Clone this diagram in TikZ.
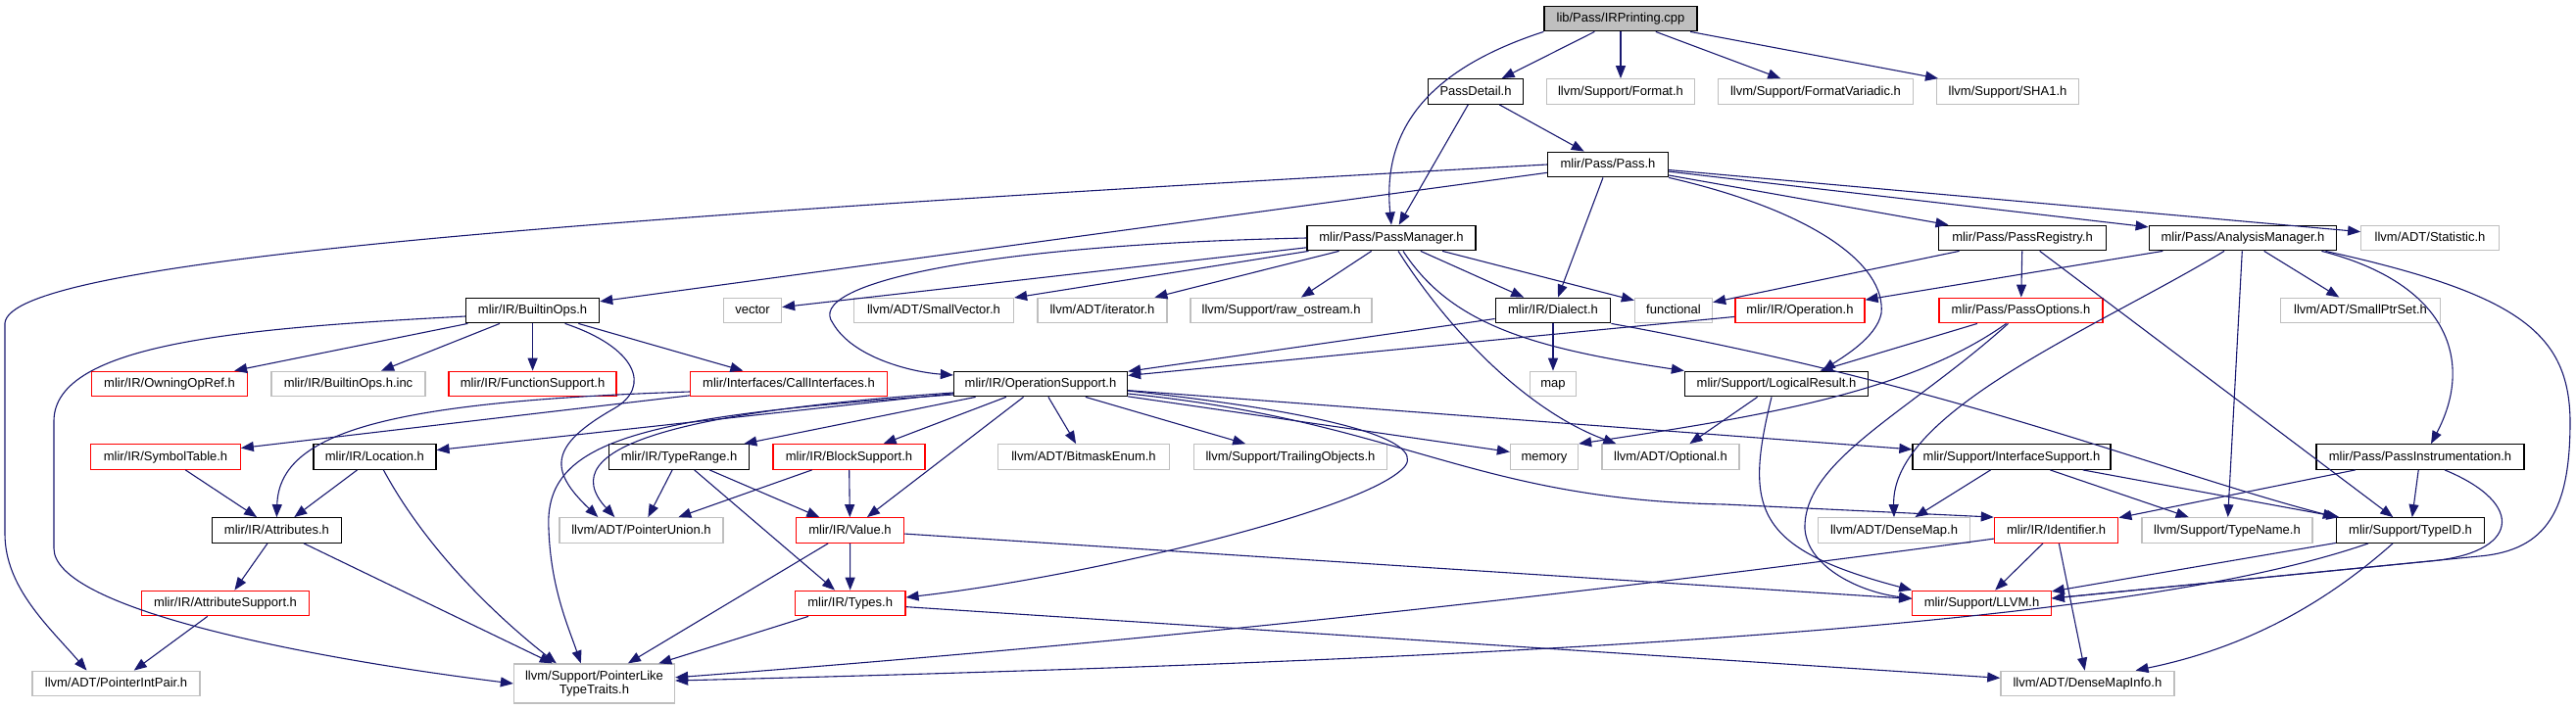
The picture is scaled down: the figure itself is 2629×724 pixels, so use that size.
\documentclass[tikz,border=0pt]{standalone}
\usepackage{fontspec}
\setmainfont{Liberation Sans}
\usetikzlibrary{arrows.meta,calc}
\definecolor{edgec}{HTML}{191970}
\definecolor{greyc}{HTML}{BFBFBF}
\definecolor{redc}{HTML}{FF0000}
\newcommand\nfont{\fontsize{13}{14}\selectfont}
\tikzset{
  basebox/.style={line width=1.3pt, inner xsep=2pt, inner ysep=0pt, font=\nfont},
  box/.style={basebox, minimum height=25.5pt, text height=9.6pt, text depth=2.6pt},
  docbox/.style={box, draw=black},
  extbox/.style={box, draw=greyc},
  trbox/.style={box, draw=redc},
  dep/.style={draw=edgec, line width=1.1pt, -{Triangle[length=13pt,width=10pt]}},
}
\begin{document}
\begin{tikzpicture}[x=1pt,y=-1pt]
\useasboundingbox (0,0) rectangle (2629,724);
% row 0
\node[docbox, fill=greyc, minimum width=156pt] (root) at (1654,19) {lib/Pass/IRPrinting.cpp};
% row 1
\node[docbox, minimum width=97pt] (pd) at (1506,93.5) {PassDetail.h};
\node[extbox, minimum width=151pt] (fmt) at (1654,93.5) {llvm/Support/Format.h};
\node[extbox, minimum width=199pt] (fv) at (1853,93.5) {llvm/Support/FormatVariadic.h};
\node[extbox, minimum width=145pt] (sha) at (2049,93.5) {llvm/Support/SHA1.h};
% row 2
\node[docbox, minimum width=123pt] (pass) at (1641,168) {mlir/Pass/Pass.h};
% row 3
\node[docbox, minimum width=172pt] (pm) at (1420,243) {mlir/Pass/PassManager.h};
\node[docbox, minimum width=171pt] (preg) at (2064,243) {mlir/Pass/PassRegistry.h};
\node[docbox, minimum width=191.5pt] (am) at (2289,243) {mlir/Pass/AnalysisManager.h};
\node[extbox, minimum width=140.5pt] (stat) at (2480,243) {llvm/ADT/Statistic.h};
% row 4
\node[docbox, minimum width=136pt] (bops) at (543.6,317) {mlir/IR/BuiltinOps.h};
\node[extbox, minimum width=59pt] (vec) at (768,317) {vector};
\node[extbox, minimum width=163pt] (sv) at (953,317) {llvm/ADT/SmallVector.h};
\node[extbox, minimum width=132pt] (it) at (1125,317) {llvm/ADT/iterator.h};
\node[extbox, minimum width=185pt] (ro) at (1307.6,317) {llvm/Support/raw\_ostream.h};
\node[docbox, minimum width=117.5pt] (dia) at (1585,317) {mlir/IR/Dialect.h};
\node[extbox, minimum width=79pt] (fun) at (1708,317) {functional};
\node[trbox, minimum width=132pt] (op) at (1837,317) {mlir/IR/Operation.h};
\node[trbox, minimum width=167pt] (popt) at (2062.5,317) {mlir/Pass/PassOptions.h};
\node[extbox, minimum width=162.5pt] (sps) at (2409,317) {llvm/ADT/SmallPtrSet.h};
% row 5
\node[trbox, minimum width=159pt] (oor) at (173,392) {mlir/IR/OwningOpRef.h};
\node[extbox, minimum width=157pt] (binc) at (355.5,392) {mlir/IR/BuiltinOps.h.inc};
\node[trbox, minimum width=171pt] (fs) at (543.6,392) {mlir/IR/FunctionSupport.h};
\node[trbox, minimum width=201pt] (ci) at (805,392) {mlir/Interfaces/CallInterfaces.h};
\node[docbox, minimum width=177pt] (os) at (1062,392) {mlir/IR/OperationSupport.h};
\node[extbox, minimum width=47pt] (map) at (1585,392) {map};
\node[docbox, minimum width=187pt] (lr) at (1813,392) {mlir/Support/LogicalResult.h};
% row 6
\node[trbox, minimum width=152.4pt] (st) at (169,466.5) {mlir/IR/SymbolTable.h};
\node[docbox, minimum width=125pt] (loc) at (382.4,466.5) {mlir/IR/Location.h};
\node[docbox, minimum width=143pt] (tr) at (693,466.5) {mlir/IR/TypeRange.h};
\node[trbox, minimum width=155pt] (bs) at (866.5,466.5) {mlir/IR/BlockSupport.h};
\node[extbox, minimum width=175pt] (be) at (1106,466.5) {llvm/ADT/BitmaskEnum.h};
\node[extbox, minimum width=197.5pt] (to) at (1317,466.5) {llvm/Support/TrailingObjects.h};
\node[extbox, minimum width=69pt] (mem) at (1576,466.5) {memory};
\node[extbox, minimum width=140pt] (opt) at (1705,466.5) {llvm/ADT/Optional.h};
\node[docbox, minimum width=202pt] (is) at (2053,466.5) {mlir/Support/InterfaceSupport.h};
\node[docbox, minimum width=212pt] (pi) at (2470,466.5) {mlir/Pass/PassInstrumentation.h};
% row 7
\node[docbox, minimum width=132pt] (attr) at (282.4,541.5) {mlir/IR/Attributes.h};
\node[extbox, minimum width=167pt] (pu) at (654.5,541.5) {llvm/ADT/PointerUnion.h};
\node[trbox, minimum width=109.4pt] (val) at (867.5,541.5) {mlir/IR/Value.h};
\node[extbox, minimum width=154.4pt] (dm) at (1933,541.5) {llvm/ADT/DenseMap.h};
\node[trbox, minimum width=126.3pt] (idf) at (2098.6,541.5) {mlir/IR/Identifier.h};
\node[extbox, minimum width=174pt] (tn) at (2273,541.5) {llvm/Support/TypeName.h};
\node[docbox, minimum width=151pt] (tid) at (2460,541.5) {mlir/Support/TypeID.h};
% row 8
\node[trbox, minimum width=171pt] (as) at (230,616) {mlir/IR/AttributeSupport.h};
\node[trbox, minimum width=112.4pt] (ty) at (867.7,616) {mlir/IR/Types.h};
\node[trbox, minimum width=141.4pt] (llvm) at (2022.5,616) {mlir/Support/LLVM.h};
% row 9
\node[extbox, minimum width=171pt] (pip) at (118.5,698) {llvm/ADT/PointerIntPair.h};
\node[basebox, draw=greyc, align=center, minimum width=164pt, minimum height=40pt] (plt) at (606.5,698) {llvm/Support/PointerLike\\TypeTraits.h};
\node[extbox, minimum width=177pt] (dmi) at (2130.4,698) {llvm/ADT/DenseMapInfo.h};

% ---- edges ----
% root
\draw[dep] (root) -- (pd);
\draw[dep] (root.south west) .. controls (1460,70) and (1410,130) .. (pm.north);
\draw[dep] (root) -- (fmt);
\draw[dep] (root) -- (fv);
\draw[dep] (root) -- (sha);
% PassDetail
\draw[dep] (pd) -- (pm);
\draw[dep] (pd) -- (pass);
% Pass.h
\draw[dep] (pass) -- (bops);
\draw[dep] (pass.west) .. controls (600,222) and (10,265) .. (5,330) -- (5,545) .. controls (5,600) and (50,640) .. ($(pip.north)+(-30,0)$);
\draw[dep] (pass) -- (dia);
\draw[dep] (pass) -- (preg);
\draw[dep] (pass) -- (am);
\draw[dep] (pass) -- (stat);
\draw[dep] (pass.south east) .. controls (1850,215) and (1925,270) .. (1920,320) .. controls (1915,345) and (1880,365) .. ($(lr.north)+(47,0)$);
% PassManager
\draw[dep] (pm) -- (vec);
\draw[dep] (pm) -- (sv);
\draw[dep] (pm) -- (it);
\draw[dep] (pm) -- (ro);
\draw[dep] (pm) -- (dia);
\draw[dep] (pm) -- (fun);
\draw[dep] (pm.west) .. controls (1000,250) and (820,290) .. (850,330) .. controls (870,365) and (930,380) .. ($(os.west)+(0,-9)$);
\draw[dep] ($(pm.south)+(7,0)$) .. controls (1480,340) and (1560,420) .. ($(opt.north west)+(15,0)$);
\draw[dep] ($(pm.south)+(12,0)$) .. controls (1480,330) and (1560,355) .. (lr.north west);
% PassRegistry
\draw[dep] (preg) -- (fun);
\draw[dep] (preg) -- (popt);
\draw[dep] (preg) -- (tid);
% AnalysisManager
\draw[dep] (am) -- (op);
\draw[dep] ($(am.south)+(-19,0)$) .. controls (2140,335) and (1930,420) .. (dm.north);
\draw[dep] (am) -- (tn);
\draw[dep] (am) -- (sps);
\draw[dep] ($(am.south east)+(-16,0)$) .. controls (2500,290) and (2525,370) .. ($(pi.north)+(11,0)$);
\draw[dep] ($(am.south east)+(-12,0)$) .. controls (2570,300) and (2622,340) .. (2623,430) .. controls (2623,520) and (2600,562) .. (2530,568) -- ($(llvm.east)+(0,-5)$);
% PassOptions
\draw[dep] (popt) -- (lr);
\draw[dep] ($(popt.south)+(-15,0)$) .. controls (1950,400) and (1800,425) .. (mem.north east);
\draw[dep] ($(popt.south)+(-13,0)$) .. controls (1950,420) and (1840,470) .. (1842,540) .. controls (1845,580) and (1900,605) .. ($(llvm.west)+(0,-5)$);
% Dialect
\draw[dep] (dia) -- (os);
\draw[dep] (dia) -- (map);
\draw[dep] (dia.south east) .. controls (2000,395) and (2200,480) .. (tid.north west);
% Operation
\draw[dep] (op) -- (os);
% LogicalResult
\draw[dep] (lr) -- (opt);
\draw[dep] ($(lr.south)+(-5,0)$) .. controls (1780,520) and (1790,560) .. (llvm.north west);
% OperationSupport
\draw[dep] (os) -- (tr);
\draw[dep] (os) -- (bs);
\draw[dep] (os) -- (val);
\draw[dep] (os) -- (be);
\draw[dep] (os) -- (to);
\draw[dep] (os) -- (is);
\draw[dep] (os) -- (mem);
\draw[dep] (os) -- (loc);
\draw[dep] ($(os.east)+(0,7)$) .. controls (1390,425) and (1460,455) .. (1430,480) .. controls (1380,525) and (1100,590) .. ($(ty.east)+(0,-6)$);
\draw[dep] ($(os.east)+(0,10)$) .. controls (1430,430) and (1500,510) .. (1760,515) -- (idf.north west);
\draw[dep] ($(os.west)+(0,9)$) .. controls (700,420) and (560,455) .. ($(pu.north west)+(57,0)$);
\draw[dep] ($(os.west)+(0,11)$) .. controls (650,425) and (555,450) .. (560,540) .. controls (562,600) and (580,640) .. ($(plt.north west)+(69,0)$);
% BuiltinOps
\draw[dep] ($(bops.south)+(33,0)$) .. controls (650,355) and (665,395) .. (627,417) .. controls (560,455) and (560,480) .. ($(pu.north west)+(40,0)$);
\draw[dep] ($(bops.west)+(0,6)$) .. controls (250,335) and (55,350) .. (55,430) -- (55,560) .. controls (55,620) and (300,670) .. (plt.west);
\draw[dep] (bops) -- (oor);
\draw[dep] (bops) -- (binc);
\draw[dep] (bops) -- (fs);
\draw[dep] (bops) -- (ci);
% CallInterfaces
\draw[dep] (ci) -- (st);
\draw[dep] ($(ci.west)+(0,8)$) .. controls (400,410) and (285,440) .. (attr.north);
% SymbolTable, Location, Attributes
\draw[dep] (st) -- (attr);
\draw[dep] (loc) -- (attr);
\draw[dep] ($(loc.south)+(9,0)$) .. controls (440,570) and (520,640) .. ($(plt.north west)+(44,0)$);
\draw[dep] (attr) -- (as);
\draw[dep] (attr) -- (plt);
\draw[dep] (as) -- (pip);
% TypeRange, BlockSupport, Value, Types
\draw[dep] (tr) -- (pu);
\draw[dep] (tr) -- (val);
\draw[dep] (tr) -- (ty);
\draw[dep] (bs) -- (pu);
\draw[dep] (bs) -- (val);
\draw[dep] (val) -- (ty);
\draw[dep] (val) -- (plt);
\draw[dep] (val) -- (llvm);
\draw[dep] (ty) -- (plt);
\draw[dep] (ty) -- (dmi);
% InterfaceSupport, PassInstrumentation
\draw[dep] (is) -- (dm);
\draw[dep] (is) -- (tn);
\draw[dep] (is) -- (tid);
\draw[dep] (pi) -- (idf);
\draw[dep] (pi) -- (tid);
\draw[dep] ($(pi.south)+(25,0)$) .. controls (2580,515) and (2570,565) .. (2480,573) -- ($(llvm.east)+(0,-5)$);
% Identifier, TypeID
\draw[dep] (idf) -- (llvm);
\draw[dep] (idf) -- (dmi);
\draw[dep] (idf) .. controls (1586,611) and (1138,658) .. (plt);
\draw[dep] (tid) -- (llvm);
\draw[dep] ($(tid.south)+(-43,0)$) .. controls (2200,630) and (1700,670) .. ($(plt.east)+(0,-3)$);
\draw[dep] ($(tid.south)+(-18,0)$) .. controls (2380,610) and (2300,660) .. ($(dmi.north east)+(-40,0)$);
\end{tikzpicture}
\end{document}
